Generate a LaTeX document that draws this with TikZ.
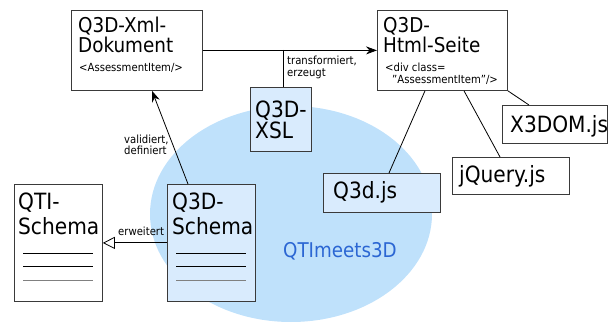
\documentclass[tikz,border=0pt]{standalone}
\usepackage{fontspec}
\setmainfont{DejaVu Sans Condensed}
\usetikzlibrary{arrows.meta}
\definecolor{boxblue}{HTML}{D9EBFD}
\definecolor{blob}{HTML}{BFE1FB}
\definecolor{frame}{HTML}{3A3A3A}
\definecolor{titleblue}{HTML}{2B66D3}

\begin{document}
\begin{tikzpicture}[x=1pt,y=-1pt,
  box node/.style={draw=frame,line width=0.8pt,fill=white,inner sep=0pt,anchor=north west},
  blue node/.style={box node,fill=boxblue},
  big/.style={font=\fontsize{20.4}{20}\selectfont,align=left,anchor=base west,inner sep=0pt},
  large/.style={font=\fontsize{22.4}{21.5}\selectfont,align=left,anchor=base west,inner sep=0pt},
  small/.style={font=\fontsize{11.2}{11.5}\selectfont,align=left,anchor=base west,inner sep=0pt},
  link/.style={line width=0.8pt},
  rule line/.style={line width=1pt}]

  \useasboundingbox (0,0) rectangle (608,323);
  \fill[blob] (291,214) ellipse [x radius=141pt, y radius=108pt];

  % boxes
  \node[box node,minimum width=131,minimum height=80] (xml) at (71,10) {};
  \node[box node,minimum width=130,minimum height=80] (html) at (377,10) {};
  \node[blue node,minimum width=61,minimum height=64] (xsl) at (250,87) {};
  \node[box node,minimum width=105,minimum height=38] (x3d) at (502,105) {};
  \node[box node,minimum width=117,minimum height=37] (jq) at (452,157) {};
  \node[blue node,minimum width=117,minimum height=39] (q3djs) at (323,173) {};
  \node[box node,minimum width=88,minimum height=117] (qti) at (14,184) {};
  \node[blue node,minimum width=88,minimum height=117] (q3ds) at (167,184) {};

  % texts (base = last line)
  \node[big] (xmltxt) at (78,52.7) {Q3D-Xml-\\Dokument};
  \node[small] (xmlsub) at (79,71.5) {<AssessmentItem/>};
  \node[big] (htmltxt) at (383,53) {Q3D-\\Html-Seite};
  \node[small] (htmlsub) at (385,83.5) {<div class=\\\hspace*{7pt}"AssessmentItem"/>};
  \node[large] (xsltxt) at (255,139) {Q3D-\\XSL};
  \node[large] (x3dtxt) at (510,133) {X3DOM.js};
  \node[large] (jqtxt) at (459,182.7) {jQuery.js};
  \node[large] (q3djstxt) at (333,199) {Q3d.js};
  \node[large] (qtitxt) at (18,235) {QTI-\\[4pt]Schema};
  \node[large] (q3dstxt) at (172,235) {Q3D-\\[4pt]Schema};
  \node[font=\fontsize{20.3}{22}\selectfont,text=titleblue,anchor=base west,inner sep=0pt] (title) at (283,258) {QTImeets3D};

  \node[small] (trlabel) at (287,76.5) {transformiert,\\erzeugt};
  \node[small] (vallabel) at (124,155) {validiert,\\definiert};
  \node[small] (erwlabel) at (118,236) {erweitert};

  \foreach \dy/\col in {70/black,83/black,97/gray}{
    \draw[rule line,\col] ([shift={(9,\dy)}]qti.north west) -- ([shift={(-10,\dy)}]qti.north east);
    \draw[rule line,\col] ([shift={(9,\dy)}]q3ds.north west) -- ([shift={(-10,\dy)}]q3ds.north east);
  }

  % connectors
  \coordinate (tr) at (283,50);
  \path[] (xml.east) [link,-{Stealth[length=11pt,width=8pt]}] edge (html.west);
  \path[] (tr) [link] edge (tr |- xsl.north);
  \path[] ([xshift=21pt]q3ds.north west) [link,-{Stealth[length=11pt,width=8pt]}] edge ([xshift=81pt]xml.south west);
  \path[] (q3ds.west) [link,-{Triangle[open,length=12pt,width=12pt]}] edge (qti.east);
  \path[] ([xshift=48pt]html.south west) [link] edge ([xshift=66pt]q3djs.north west);
  \path[] ([xshift=87pt]html.south west) [link] edge ([xshift=48pt]jq.north west);
  \path[] (html.south east) [link] edge ([xshift=27pt]x3d.north west);
\end{tikzpicture}
\end{document}
